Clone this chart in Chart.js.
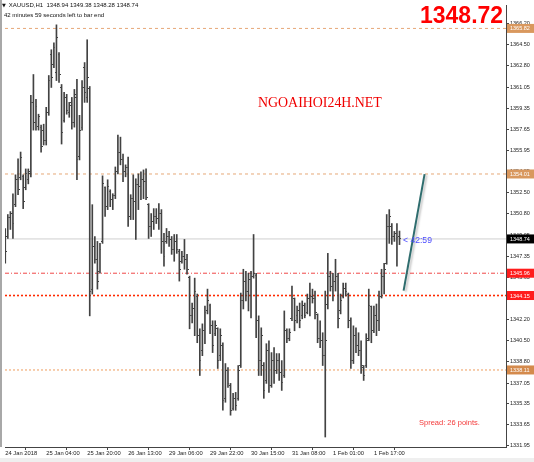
<!DOCTYPE html>
<html>
<head>
<meta charset="utf-8">
<title>XAUUSD,H1</title>
<script src="https://cdn.jsdelivr.net/npm/chart.js@4.4.1/dist/chart.umd.min.js"></script>
<style>
    html, body { margin: 0; padding: 0; background: #fff; }
    #wrap { position: relative; width: 534px; height: 462px; overflow: hidden; font-family: "Liberation Sans", Arial, sans-serif; }
    #chart { position: absolute; left: 0; top: 0; width: 534px; height: 462px; }
    .txt { position: absolute; white-space: nowrap; line-height: 1; }
    #title { left: 2px; top: 2px; font-size: 6px; color: #111; }
    #title .tri { font-family: "DejaVu Sans"; font-size: 5px; margin-right: 3px; }
    #timer { left: 4px; top: 11.5px; font-size: 6px; color: #111; }
    #bigPrice { left: 420px; top: 4px; font-size: 23px; font-weight: bold; color: #ff0000; }
    #watermark { left: 258px; top: 96px; font-family: "Liberation Serif", "Times New Roman", serif; font-size: 13.9px; color: #f00000; }
    #spread { left: 419px; top: 419px; font-size: 7.5px; color: #f43a3a; }
    #countdown { left: 403px; top: 235.5px; font-size: 8.6px; color: #4b4bff; }
    #strip { position: absolute; left: 0; top: 458px; width: 534px; height: 4px; background: #efefef; }
</style>
</head>
<body>
<div id="wrap">
    <canvas id="chart" width="534" height="462"></canvas>
    <div class="txt" id="title"><span class="tri">&#9660;</span>XAUUSD,H1&nbsp; 1348.94 1349.38 1348.28 1348.74</div>
    <div class="txt" id="timer">42 minutes 59 seconds left to bar end</div>
    <div class="txt" id="bigPrice">1348.72</div>
    <div class="txt" id="watermark">NGOAIHOI24H.NET</div>
    <div class="txt" id="spread">Spread: 26 points.</div>
    <div class="txt" id="countdown">&lt; 42:59</div>
    <div id="strip"></div>
</div>
<script>
// H1 bars, 24 Jan 2018 .. 1 Feb 2018
const opens = [
    1349.19, 1348.94, 1350.47, 1350.80, 1351.52, 1353.54, 1353.70, 1353.78, 1352.89, 1353.54,
    1354.02, 1359.82, 1358.21, 1357.89, 1357.81, 1357.57, 1356.76, 1359.02, 1363.69, 1362.88,
    1362.24, 1363.69, 1361.03, 1358.37, 1360.22, 1359.02, 1359.82, 1358.21, 1360.22, 1355.39,
    1357.81, 1362.64, 1360.22, 1360.95, 1344.67, 1348.14, 1347.09, 1346.12, 1348.54, 1352.89,
    1351.36, 1352.57, 1351.93, 1352.25, 1354.18, 1355.79, 1355.15, 1354.18, 1354.50, 1350.56,
    1352.01, 1351.76, 1353.13, 1352.97, 1353.54, 1353.38, 1351.52, 1349.75, 1350.16, 1350.56,
    1350.39, 1350.80, 1348.54, 1348.54, 1348.94, 1348.70, 1347.90, 1348.54, 1347.74, 1346.93,
    1347.33, 1347.09, 1345.64, 1342.50, 1343.06, 1344.11, 1340.89, 1339.68, 1341.29, 1342.90,
    1343.38, 1341.69, 1341.05, 1341.45, 1339.27, 1340.08, 1335.81, 1338.07, 1336.86, 1335.00,
    1335.81, 1335.81, 1338.47, 1343.71, 1345.32, 1344.51, 1345.48, 1345.72, 1345.80, 1342.10,
    1338.87, 1338.47, 1337.26, 1339.68, 1336.86, 1338.87, 1338.07, 1338.87, 1337.90, 1337.66,
    1341.29, 1340.64, 1342.26, 1343.87, 1342.50, 1342.90, 1342.50, 1343.30, 1342.74, 1343.87,
    1344.11, 1343.87, 1342.58, 1340.64, 1340.48, 1339.27, 1343.46, 1345.72, 1344.91, 1345.32,
    1345.72, 1342.90, 1344.11, 1344.75, 1344.27, 1342.10, 1338.87, 1340.89, 1340.08, 1339.68,
    1338.31, 1338.47, 1340.64, 1343.22, 1341.29, 1342.50, 1342.10, 1344.11, 1345.72, 1346.77,
    1349.75, 1349.75, 1348.94, 1349.19, 1348.94
];
const highs = [
    1349.59, 1350.72, 1350.96, 1352.41, 1353.94, 1355.23, 1355.79, 1353.94, 1354.42, 1354.42,
    1360.39, 1362.08, 1360.06, 1358.86, 1357.97, 1358.05, 1359.42, 1362.00, 1364.09, 1364.66,
    1366.11, 1363.85, 1361.27, 1360.63, 1360.47, 1359.82, 1360.22, 1360.87, 1361.68, 1358.77,
    1361.59, 1363.05, 1364.90, 1361.11, 1351.52, 1348.94, 1348.54, 1348.38, 1353.86, 1352.97,
    1353.54, 1352.73, 1352.41, 1354.58, 1357.16, 1357.00, 1355.63, 1354.75, 1355.39, 1352.33,
    1353.94, 1353.62, 1354.02, 1354.18, 1354.34, 1354.42, 1351.60, 1350.80, 1351.20, 1351.20,
    1351.60, 1351.12, 1349.19, 1349.59, 1349.35, 1348.94, 1349.10, 1349.10, 1347.90, 1347.74,
    1348.70, 1347.49, 1345.72, 1343.54, 1345.56, 1344.27, 1341.45, 1341.85, 1343.30, 1344.67,
    1343.46, 1342.10, 1342.10, 1341.53, 1341.45, 1340.32, 1338.63, 1338.31, 1337.02, 1336.21,
    1336.29, 1338.47, 1344.35, 1346.28, 1346.12, 1345.96, 1346.12, 1349.10, 1345.96, 1342.50,
    1341.53, 1338.71, 1340.24, 1340.48, 1339.52, 1339.92, 1339.44, 1339.44, 1338.87, 1342.90,
    1341.45, 1341.45, 1344.91, 1343.95, 1343.30, 1343.54, 1343.71, 1343.54, 1344.27, 1345.16,
    1344.67, 1344.51, 1342.66, 1342.10, 1341.13, 1344.51, 1347.57, 1346.12, 1345.96, 1347.09,
    1345.96, 1344.27, 1345.16, 1345.16, 1344.35, 1342.34, 1341.69, 1341.53, 1341.13, 1340.48,
    1338.47, 1341.05, 1344.67, 1343.30, 1343.30, 1343.46, 1344.51, 1346.28, 1346.77, 1350.72,
    1351.12, 1349.99, 1349.35, 1349.99, 1349.38
];
const lows = [
    1346.77, 1348.78, 1349.51, 1348.78, 1351.36, 1352.33, 1353.54, 1351.20, 1352.73, 1353.21,
    1353.78, 1357.57, 1357.57, 1357.57, 1355.79, 1356.36, 1356.36, 1358.77, 1361.03, 1362.64,
    1361.59, 1361.43, 1356.44, 1358.21, 1358.86, 1358.61, 1357.65, 1357.81, 1353.54, 1355.15,
    1357.57, 1359.82, 1359.82, 1342.50, 1344.27, 1346.77, 1344.67, 1345.96, 1348.38, 1350.56,
    1351.12, 1351.36, 1351.12, 1352.01, 1354.02, 1354.75, 1353.38, 1353.78, 1349.75, 1350.31,
    1350.31, 1348.70, 1351.12, 1351.93, 1352.01, 1351.93, 1348.78, 1348.94, 1349.51, 1349.99,
    1349.51, 1347.57, 1346.53, 1348.38, 1348.14, 1347.49, 1346.93, 1347.57, 1345.32, 1346.77,
    1346.28, 1345.88, 1341.45, 1341.93, 1340.89, 1340.32, 1337.66, 1339.27, 1340.24, 1342.66,
    1341.05, 1339.52, 1340.89, 1338.23, 1338.87, 1334.84, 1335.49, 1336.70, 1334.44, 1334.84,
    1334.84, 1335.65, 1338.31, 1343.06, 1343.71, 1342.90, 1342.34, 1345.56, 1340.72, 1337.66,
    1337.66, 1335.81, 1337.02, 1336.29, 1336.70, 1337.02, 1337.82, 1337.26, 1336.45, 1337.50,
    1340.32, 1340.48, 1342.10, 1341.29, 1341.93, 1341.53, 1342.26, 1342.34, 1342.66, 1342.50,
    1343.54, 1342.26, 1340.32, 1339.92, 1338.47, 1332.67, 1343.06, 1344.51, 1343.71, 1344.51,
    1341.53, 1342.66, 1343.95, 1344.11, 1341.53, 1338.23, 1338.63, 1339.52, 1339.27, 1337.82,
    1337.26, 1338.31, 1340.48, 1340.32, 1341.13, 1340.89, 1341.29, 1343.95, 1344.27, 1346.69,
    1348.38, 1348.30, 1348.54, 1346.53, 1348.28
];
const closes = [
    1347.74, 1350.47, 1350.80, 1349.99, 1353.54, 1352.73, 1355.31, 1351.76, 1354.02, 1354.18,
    1359.82, 1358.21, 1359.50, 1358.69, 1356.20, 1356.76, 1359.02, 1361.59, 1361.84, 1364.25,
    1365.06, 1362.08, 1357.40, 1360.22, 1359.18, 1359.58, 1358.21, 1360.47, 1355.15, 1357.57,
    1361.03, 1360.63, 1361.84, 1344.51, 1348.14, 1347.09, 1345.32, 1347.90, 1353.21, 1351.36,
    1352.97, 1351.93, 1352.25, 1354.18, 1355.79, 1355.15, 1354.18, 1354.50, 1350.56, 1352.01,
    1351.76, 1353.13, 1352.97, 1353.54, 1353.38, 1352.09, 1349.75, 1350.16, 1350.56, 1350.39,
    1350.80, 1348.54, 1347.33, 1348.94, 1348.70, 1347.90, 1348.54, 1347.90, 1346.28, 1347.33,
    1347.09, 1346.28, 1342.50, 1343.06, 1344.51, 1340.89, 1338.87, 1341.29, 1342.74, 1343.71,
    1341.69, 1340.08, 1341.69, 1338.87, 1340.89, 1335.65, 1338.07, 1337.02, 1334.84, 1335.81,
    1335.25, 1338.07, 1343.71, 1345.32, 1344.51, 1345.48, 1345.72, 1345.96, 1342.10, 1338.87,
    1340.89, 1336.45, 1339.68, 1336.86, 1338.87, 1338.07, 1338.87, 1337.90, 1337.10, 1341.29,
    1340.64, 1341.13, 1344.11, 1342.10, 1342.90, 1342.10, 1343.30, 1342.50, 1343.87, 1344.11,
    1343.87, 1342.74, 1340.64, 1340.48, 1339.27, 1340.48, 1345.72, 1344.91, 1345.32, 1345.72,
    1342.26, 1343.71, 1344.75, 1344.51, 1342.10, 1338.87, 1340.89, 1340.08, 1339.68, 1338.47,
    1337.66, 1340.48, 1343.30, 1341.29, 1342.50, 1342.10, 1344.11, 1345.72, 1346.28, 1349.75,
    1350.56, 1348.94, 1349.19, 1348.86, 1348.74
];

// time axis: one label every 16 bars
const timeLabels = ['24 Jan 2018', '25 Jan 04:00', '25 Jan 20:00', '26 Jan 13:00', '29 Jan 06:00',
    '29 Jan 22:00', '30 Jan 15:00', '31 Jan 08:00', '1 Feb 01:00', '1 Feb 17:00'];
const timeTickBars = [0, 16, 32, 48, 64, 80, 96, 112, 128, 144];

// price axis ticks
const priceTicks = [1331.95, 1333.65, 1335.35, 1337.05, 1338.80, 1340.50, 1342.20, 1343.90, 1345.65,
    1347.35, 1349.05, 1350.80, 1352.50, 1354.25, 1355.95, 1357.65, 1359.35, 1361.05, 1362.80,
    1364.50, 1366.20];

// horizontal levels and the drawn trend line
const levelPrices = [1365.82, 1354.01, 1348.74, 1345.96, 1344.15, 1338.11];
const trendBars = [155.6, 163.8];
const trendPrices = [1344.55, 1354.0];

const X_MIN = -0.1, X_MAX = 195.6;
const Y_MIN = 1331.86, Y_MAX = 1367.72;
const BAR_COLOR = '#424242';

const levelStyles = [
    { line: '#e6a878', dash: [3, 3], width: 1, box: '#d9985e', text: '#fff' },
    { line: '#e6a878', dash: [3, 3], width: 1, box: '#d9985e', text: '#fff' },
    { line: '#cfcfcf', dash: [], width: 1, box: '#000', text: '#fff' },
    { line: '#f04848', dash: [4, 2, 1, 2], width: 1, box: '#ff1c1c', text: '#fff' },
    { line: '#ff2a00', dash: [2, 2], width: 1.6, box: '#ff1c1c', text: '#fff' },
    { line: '#f5c29a', dash: [2, 2], width: 1.6, box: '#d48a4c', text: '#fff' }
];

// open tick sticks out left, close tick right
function tickImage(side) {
    const c = document.createElement('canvas');
    c.width = 3;
    c.height = 1;
    const g = c.getContext('2d');
    g.fillStyle = BAR_COLOR;
    g.fillRect(side === 'open' ? 0 : 2, 0, 1, 1);
    return c;
}

const datasets = [];

datasets.push({
    type: 'bar',
    data: highs.map((h, i) => ({ x: i, y: [lows[i], h] })),
    backgroundColor: BAR_COLOR,
    borderWidth: 0,
    barThickness: 1,
    order: 2
});

datasets.push({
    type: 'line',
    data: opens.map((o, i) => ({ x: i, y: o })),
    showLine: false,
    pointStyle: tickImage('open'),
    pointRadius: 1,
    order: 1
});

datasets.push({
    type: 'line',
    data: closes.map((c, i) => ({ x: i, y: c })),
    showLine: false,
    pointStyle: tickImage('close'),
    pointRadius: 1,
    order: 1
});

levelPrices.forEach((p, i) => {
    datasets.push({
        type: 'line',
        data: [{ x: X_MIN, y: p }, { x: X_MAX, y: p }],
        borderColor: levelStyles[i].line,
        borderDash: levelStyles[i].dash,
        borderWidth: levelStyles[i].width,
        pointRadius: 0,
        order: 10
    });
});

datasets.push({
    id: 'trend',
    type: 'line',
    data: trendBars.map((b, i) => ({ x: b, y: trendPrices[i] })),
    borderColor: '#2f6d6e',
    borderWidth: 2,
    pointRadius: 0,
    order: 0
});

const framePlugin = {
    id: 'frame',
    beforeDraw(chart) {
        const ctx = chart.ctx;
        ctx.save();
        ctx.fillStyle = '#a8a8a8';
        ctx.fillRect(0, 0, 2, chart.chartArea.bottom);
        ctx.restore();
    },
    beforeDatasetDraw(chart, args) {
        if (chart.data.datasets[args.index].id !== 'trend') return;
        const ctx = chart.ctx;
        ctx.save();
        ctx.shadowColor = 'rgba(0, 0, 0, 0.22)';
        ctx.shadowBlur = 2;
        ctx.shadowOffsetX = 2;
        ctx.shadowOffsetY = 1;
    },
    afterDatasetDraw(chart, args) {
        if (chart.data.datasets[args.index].id !== 'trend') return;
        chart.ctx.restore();
    },
    afterDraw(chart) {
        // price tags of the horizontal lines on the right scale
        const ctx = chart.ctx;
        const yScale = chart.scales.y;
        ctx.save();
        ctx.font = '5.5px "Liberation Sans"';
        ctx.textBaseline = 'middle';
        ctx.textAlign = 'left';
        levelPrices.forEach((p, i) => {
            const py = yScale.getPixelForValue(p);
            ctx.fillStyle = levelStyles[i].box;
            ctx.fillRect(yScale.left + 1, py - 4.5, 27, 9);
            ctx.fillStyle = levelStyles[i].text;
            ctx.fillText(p.toFixed(2), yScale.left + 4, py + 0.5);
        });
        ctx.restore();
    }
};

Chart.defaults.font.family = '"Liberation Sans", Arial, sans-serif';

new Chart(document.getElementById('chart'), {
    type: 'bar',
    data: { datasets: datasets },
    options: {
        responsive: false,
        animation: false,
        devicePixelRatio: 1,
        events: [],
        layout: { padding: { left: 2, top: 2, right: 0, bottom: 0 } },
        plugins: {
            legend: { display: false },
            tooltip: { enabled: false }
        },
        scales: {
            x: {
                type: 'linear',
                min: X_MIN,
                max: X_MAX,
                offset: false,
                grid: { drawOnChartArea: false, drawTicks: true, tickLength: 3, color: '#444' },
                border: { display: true, color: '#444' },
                ticks: {
                    autoSkip: false,
                    maxRotation: 0,
                    align: 'start',
                    padding: 0,
                    color: '#222',
                    font: { size: 5.8 },
                    callback: (v, i) => timeLabels[i]
                },
                afterBuildTicks: (scale) => {
                    scale.ticks = timeTickBars.map(v => ({ value: v }));
                },
                afterFit: (scale) => {
                    scale.height = 15;
                    scale.paddingLeft = 0;
                    scale.paddingRight = 0;
                }
            },
            y: {
                type: 'linear',
                position: 'right',
                min: Y_MIN,
                max: Y_MAX,
                grid: { drawOnChartArea: false, drawTicks: true, tickLength: 3, color: '#444' },
                border: { display: true, color: '#444' },
                ticks: {
                    autoSkip: false,
                    padding: 1,
                    crossAlign: 'near',
                    color: '#222',
                    font: { size: 5.5 },
                    callback: (v) => Number(v).toFixed(2)
                },
                afterBuildTicks: (scale) => {
                    scale.ticks = priceTicks.map(v => ({ value: v }));
                },
                afterFit: (scale) => {
                    scale.width = 28;
                    scale.paddingTop = 0;
                    scale.paddingBottom = 0;
                }
            }
        }
    },
    plugins: [framePlugin]
});
</script>
</body>
</html>
